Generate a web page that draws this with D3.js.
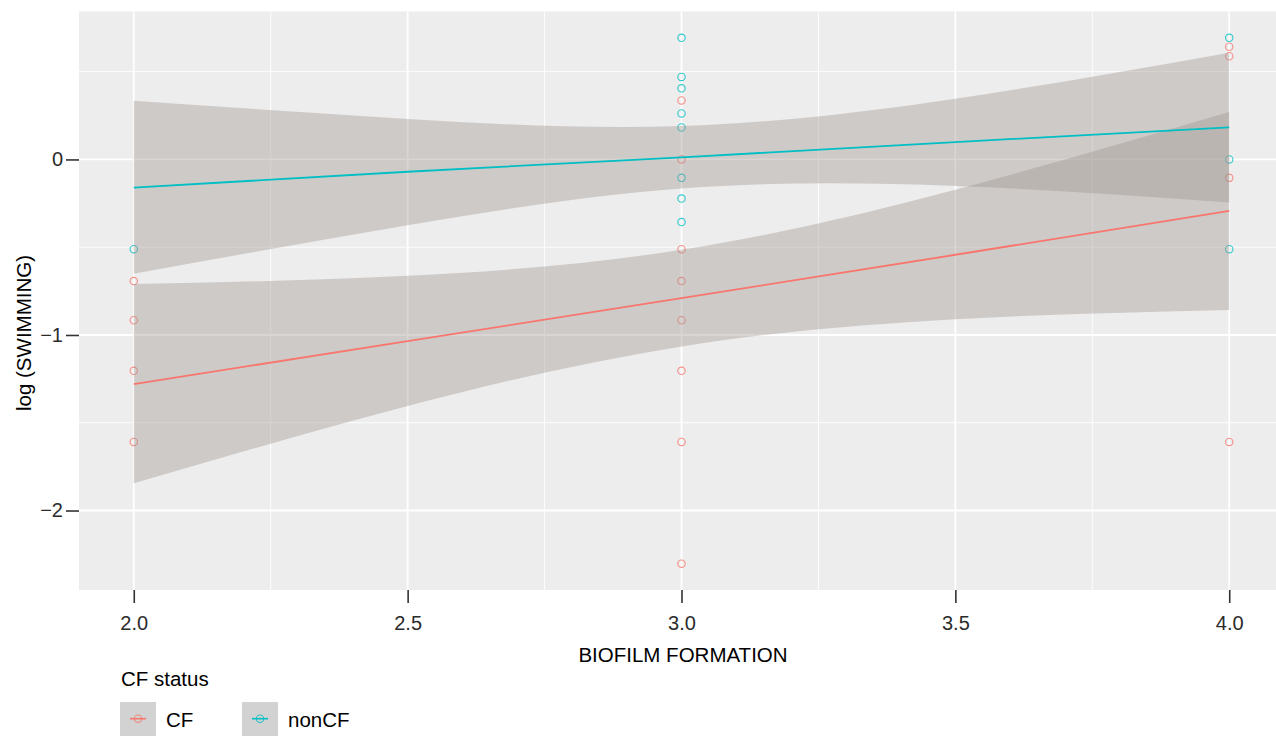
<!DOCTYPE html>
<html>
<head>
<meta charset="utf-8">
<script src="https://cdn.jsdelivr.net/npm/d3@7"></script>
<style>
  body { margin: 0; background: #fff; }
  svg { display: block; }
  text { font-family: "Liberation Sans", Arial, sans-serif; }
</style>
</head>
<body>
<svg id="chart" width="1276" height="736"></svg>
<script>
const cfX    = [2, 2, 2, 2, 3, 3, 3, 3, 3, 3, 3, 3, 4, 4, 4, 4];
const cfY    = [-0.693, -0.916, -1.204, -1.609, 0.336, 0, -0.511, -0.693, -0.916, -1.204, -1.609, -2.303, 0.642, 0.588, -0.105, -1.609];
const nonCfX = [2, 3, 3, 3, 3, 3, 3, 3, 3, 4, 4, 4];
const nonCfY = [-0.511, 0.693, 0.47, 0.405, 0.262, 0.182, -0.105, -0.223, -0.357, 0.693, 0, -0.511];

// smooth (lm) fit and band, read at a few x positions
const fitX       = [2, 2.5, 3, 3.5, 4];
const cfFit      = [-1.28, -1.035, -0.79, -0.543, -0.293];
const cfLow      = [-1.845, -1.405, -1.065, -0.91, -0.857];
const cfHigh     = [-0.71, -0.663, -0.515, -0.172, 0.27];
const nonCfFit   = [-0.16, -0.07, 0.012, 0.099, 0.183];
const nonCfLow   = [-0.651, -0.375, -0.165, -0.151, -0.245];
const nonCfHigh  = [0.335, 0.231, 0.19, 0.346, 0.608];

const groups = ["CF", "nonCF"];
const colors = { CF: "#F8766D", nonCF: "#00BFC4" };
const xTicks = [2.0, 2.5, 3.0, 3.5, 4.0];
const xMinor = [2.25, 2.75, 3.25, 3.75];
const yTicks = [0, -1, -2];
const yMinor = [0.5, -0.5, -1.5];

const svg = d3.select("#chart");
const panel = { left: 79, right: 1284, top: 11.5, bottom: 590 };

let xScale = d3.scaleLinear()
  .domain([1.9, 4.1])
  .range([panel.left, panel.right]);

// ggplot style 5% expansion of data range
let allY = cfY.concat(nonCfY);
let yMin = d3.min(allY), yMax = d3.max(allY);
let pad = (yMax - yMin) * 0.05;
let yScale = d3.scaleLinear()
  .domain([yMin - pad, yMax + pad])
  .range([panel.bottom, panel.top]);

// panel background
svg.append("rect")
  .attr("x", panel.left).attr("y", panel.top)
  .attr("width", panel.right - panel.left)
  .attr("height", panel.bottom - panel.top)
  .attr("fill", "#EDEDED");

// grid
let grid = svg.append("g");
grid.selectAll(".yminor").data(yMinor).enter().append("line")
  .attr("x1", panel.left).attr("x2", panel.right)
  .attr("y1", d => yScale(d)).attr("y2", d => yScale(d))
  .attr("stroke", "#fff").attr("stroke-width", 0.9);
grid.selectAll(".xminor").data(xMinor).enter().append("line")
  .attr("y1", panel.top).attr("y2", panel.bottom)
  .attr("x1", d => xScale(d)).attr("x2", d => xScale(d))
  .attr("stroke", "#fff").attr("stroke-width", 0.9);
grid.selectAll(".ymajor").data(yTicks).enter().append("line")
  .attr("x1", panel.left).attr("x2", panel.right)
  .attr("y1", d => yScale(d)).attr("y2", d => yScale(d))
  .attr("stroke", "#fff").attr("stroke-width", 1.8);
grid.selectAll(".xmajor").data(xTicks).enter().append("line")
  .attr("y1", panel.top).attr("y2", panel.bottom)
  .attr("x1", d => xScale(d)).attr("x2", d => xScale(d))
  .attr("stroke", "#fff").attr("stroke-width", 1.8);

// points (drawn under the smooth, like ggplot layer order)
let points = cfX.map((x, i) => ({ x: x, y: cfY[i], g: "CF" }))
  .concat(nonCfX.map((x, i) => ({ x: x, y: nonCfY[i], g: "nonCF" })));
svg.append("g").selectAll("circle").data(points).enter().append("circle")
  .attr("cx", d => xScale(d.x))
  .attr("cy", d => yScale(d.y))
  .attr("r", 3.7)
  .attr("fill", "none")
  .attr("stroke", d => colors[d.g])
  .attr("stroke-opacity", 0.8)
  .attr("stroke-width", 1.1);

// smooth bands + lines
let smooth = {
  CF: fitX.map((x, i) => ({ x: x, fit: cfFit[i], lo: cfLow[i], hi: cfHigh[i] })),
  nonCF: fitX.map((x, i) => ({ x: x, fit: nonCfFit[i], lo: nonCfLow[i], hi: nonCfHigh[i] }))
};
let area = d3.area()
  .x(d => xScale(d.x))
  .y0(d => yScale(d.lo))
  .y1(d => yScale(d.hi))
  .curve(d3.curveNatural);
let line = d3.line()
  .x(d => xScale(d.x))
  .y(d => yScale(d.fit));

groups.forEach(function(g) {
  svg.append("path")
    .attr("d", area(smooth[g]))
    .attr("fill", "#a09692")
    .attr("fill-opacity", 0.4);
  svg.append("path")
    .attr("d", line(smooth[g]))
    .attr("fill", "none")
    .attr("stroke", colors[g])
    .attr("stroke-width", 1.8);
});

// axes
let xAxis = svg.append("g")
  .attr("transform", `translate(0,${panel.bottom})`)
  .call(d3.axisBottom(xScale).tickValues(xTicks).tickFormat(d3.format(".1f"))
    .tickSize(13).tickPadding(12.5));
let yAxis = svg.append("g")
  .attr("transform", `translate(${panel.left},0)`)
  .call(d3.axisLeft(yScale).tickValues(yTicks).tickFormat(d => d3.format("")(d).replace("-", "\u2212"))
    .tickSize(13).tickPadding(3));

[xAxis, yAxis].forEach(function(ax) {
  ax.select(".domain").remove();
  ax.selectAll(".tick line").attr("stroke", "#333").attr("stroke-width", 1.6);
  ax.selectAll(".tick text")
    .attr("fill", "#2b2b2b")
    .style("font-size", "20px")
    .style("font-family", "Liberation Sans, Arial, sans-serif");
});

// axis titles
svg.append("text")
  .attr("x", 683).attr("y", 662)
  .attr("text-anchor", "middle")
  .style("font-size", "20.5px")
  .attr("fill", "#000")
  .text("BIOFILM FORMATION");
svg.append("text")
  .attr("transform", "translate(31,333) rotate(-90)")
  .attr("text-anchor", "middle")
  .style("font-size", "20.5px")
  .attr("fill", "#000")
  .text("log (SWIMMING)");

// legend
let legend = svg.append("g");
legend.append("text")
  .attr("x", 121).attr("y", 686)
  .style("font-size", "20.5px")
  .text("CF status");
let keyX = { CF: 120, nonCF: 242 };
groups.forEach(function(g) {
  let k = legend.append("g").attr("transform", `translate(${keyX[g]},702)`);
  k.append("rect")
    .attr("width", 36).attr("height", 36)
    .attr("fill", "#d2d2d2");
  k.append("line")
    .attr("x1", 10).attr("x2", 26)
    .attr("y1", 16.7).attr("y2", 16.7)
    .attr("stroke", colors[g]).attr("stroke-width", 1.6);
  k.append("circle")
    .attr("cx", 18).attr("cy", 16.7).attr("r", 3.7)
    .attr("fill", "none")
    .attr("stroke", colors[g]).attr("stroke-opacity", 0.8)
    .attr("stroke-width", 1.1);
  k.append("text")
    .attr("x", 46).attr("y", 25)
    .style("font-size", "20.5px")
    .text(g);
});
</script>
</body>
</html>
